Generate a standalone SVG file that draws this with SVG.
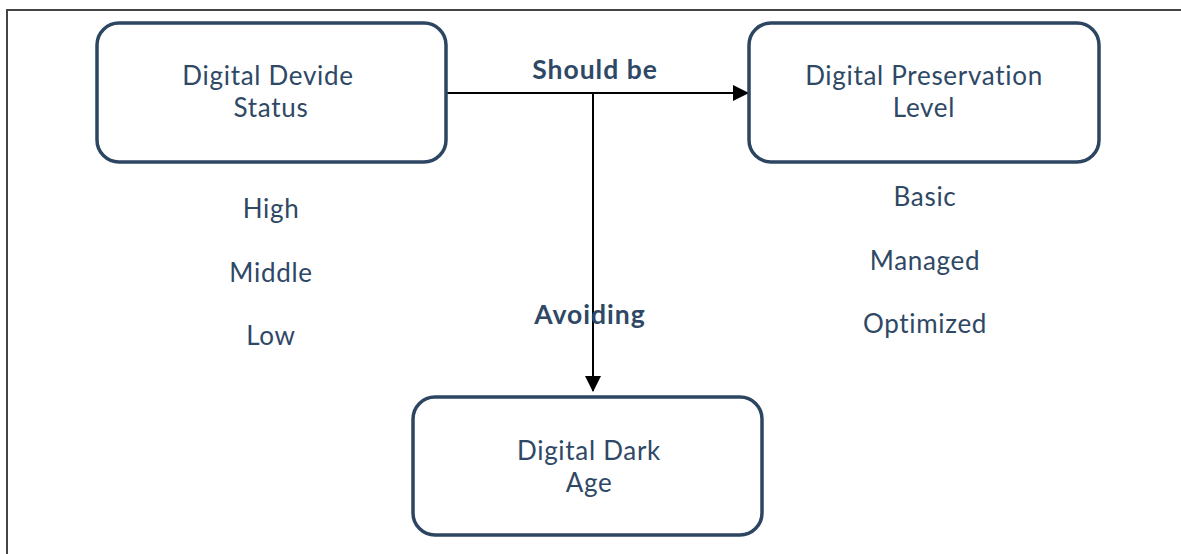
<svg xmlns="http://www.w3.org/2000/svg" width="1181" height="554" viewBox="0 0 1181 554">
<style>
.node rect{fill:#fff;stroke:#2c4661;stroke-width:3.5}
text{font-family:Lato,"Open Sans",sans-serif;fill:#2e4865;text-anchor:middle;font-size:26px;letter-spacing:0.7px}
.lbl{font-weight:bold;font-size:26.5px;letter-spacing:1px}
.conn{stroke:#000;stroke-width:2;fill:none}
</style>
<defs>
<marker id="ah" markerWidth="16" markerHeight="16" viewBox="0 0 16 16" refX="15" refY="8" orient="auto" markerUnits="userSpaceOnUse">
<path d="M0,0 L16,8 L0,16 z" fill="#000"/>
</marker>
</defs>
<rect width="1181" height="554" fill="#fff"/>
<path d="M7,554 V10 H1181" fill="none" stroke="#444" stroke-width="2"/>
<g id="connectors">
<path class="conn" d="M447,93 H748" marker-end="url(#ah)"/>
<path class="conn" d="M593,93 V391" marker-end="url(#ah)"/>
<text class="lbl" x="595" y="79">Should be</text>
<text class="lbl" x="590" y="324">Avoiding</text>
</g>
<g id="node-divide" class="node">
<rect x="97" y="23" width="349" height="139" rx="22"/>
<text x="268" y="85">Digital Devide</text>
<text x="271" y="117">Status</text>
</g>
<g id="node-preservation" class="node">
<rect x="749" y="23" width="350" height="139" rx="22"/>
<text x="924" y="85">Digital Preservation</text>
<text x="924" y="117">Level</text>
</g>
<g id="node-darkage" class="node">
<rect x="413" y="397" width="349" height="138" rx="22"/>
<text x="589" y="460">Digital Dark</text>
<text x="589" y="492">Age</text>
</g>
<g id="divide-levels">
<text x="271" y="218">High</text>
<text x="271" y="282">Middle</text>
<text x="271" y="345">Low</text>
</g>
<g id="preservation-levels">
<text x="925" y="206">Basic</text>
<text x="925" y="270">Managed</text>
<text x="925" y="333">Optimized</text>
</g>
</svg>
